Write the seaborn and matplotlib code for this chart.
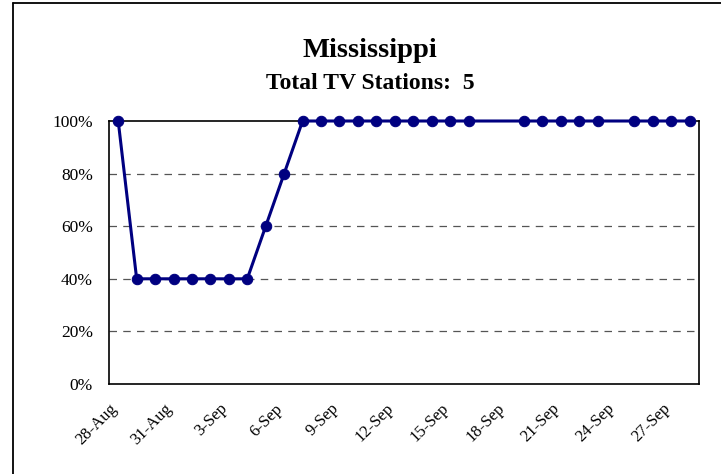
import pandas as pd
import matplotlib.pyplot as plt
from matplotlib.lines import Line2D
from matplotlib.ticker import PercentFormatter
import seaborn as sns

# data (share of TV stations operating)
dates = ['2005-08-28', '2005-08-29', '2005-08-30', '2005-08-31', '2005-09-01',
         '2005-09-02', '2005-09-03', '2005-09-04', '2005-09-05', '2005-09-06',
         '2005-09-07', '2005-09-08', '2005-09-09', '2005-09-10', '2005-09-11',
         '2005-09-12', '2005-09-13', '2005-09-14', '2005-09-15', '2005-09-16',
         '2005-09-19', '2005-09-20', '2005-09-21', '2005-09-22', '2005-09-23',
         '2005-09-25', '2005-09-26', '2005-09-27', '2005-09-28']
share = [1.0, 0.4, 0.4, 0.4, 0.4, 0.4, 0.4, 0.4, 0.6, 0.8,
         1.0, 1.0, 1.0, 1.0, 1.0, 1.0, 1.0, 1.0, 1.0, 1.0,
         1.0, 1.0, 1.0, 1.0, 1.0,
         1.0, 1.0, 1.0, 1.0]
tick_dates = ['2005-08-28', '2005-08-31', '2005-09-03', '2005-09-06', '2005-09-09',
              '2005-09-12', '2005-09-15', '2005-09-18', '2005-09-21', '2005-09-24',
              '2005-09-27']
tick_labels = ['28-Aug', '31-Aug', '3-Sep', '6-Sep', '9-Sep', '12-Sep', '15-Sep',
               '18-Sep', '21-Sep', '24-Sep', '27-Sep']
y_ticks = [0, 0.2, 0.4, 0.6, 0.8, 1.0]

df = pd.DataFrame({'date': pd.to_datetime(dates), 'share': share})
half_day = pd.Timedelta(hours=12)

sns.set_style('white')
plt.rcParams['font.family'] = ['Liberation Serif', 'DejaVu Serif']
plt.rcParams['text.color'] = 'black'

fig = plt.figure(figsize=(7.21, 4.74), dpi=100)
ax = fig.add_axes([109 / 721, 1 - 384 / 474, 590 / 721, 263 / 474])

sns.lineplot(data=df, x='date', y='share', ax=ax, color='#000080', linewidth=2.2,
             marker='o', markersize=7.5, markeredgecolor='#000080', clip_on=False, zorder=5)

ax.set_xlim(df['date'].iloc[0] - half_day, df['date'].iloc[-1] + half_day)
ax.set_ylim(0, 1)
ax.set_xticks(pd.to_datetime(tick_dates) - half_day)
ax.set_xticklabels(tick_labels, rotation=45, ha='right', rotation_mode='anchor', fontsize=12)
ax.set_yticks(y_ticks)
ax.yaxis.set_major_formatter(PercentFormatter(1.0, decimals=0))
ax.tick_params(axis='y', direction='inout', length=7, width=1, labelsize=12.5, pad=8,
               colors='black')
ax.tick_params(axis='x', direction='out', length=5, width=1, pad=7, colors='black')
ax.set_xlabel('')
ax.set_ylabel('')

for y in y_ticks[1:-1]:
    ax.axhline(y, color='#555555', linewidth=0.9, linestyle=(0, (6, 5)), zorder=0.5)

for s in ax.spines.values():
    s.set_visible(True)
    s.set_color('black')
    s.set_linewidth(1.2)

fig.text(370 / 721, 1 - 57 / 474, 'Mississippi', ha='center', va='baseline',
         fontsize=20.5, fontweight='bold', color='black')
fig.text(370 / 721, 1 - 89 / 474, 'Total TV Stations:  5', ha='center', va='baseline',
         fontsize=17, fontweight='bold', color='black')

# outer chart-area border (cropped on right and bottom)
fig.add_artist(Line2D([13.5 / 721, 13.5 / 721], [0, 1 - 2.5 / 474], color='black',
                      linewidth=1.3, transform=fig.transFigure))
fig.add_artist(Line2D([13.5 / 721, 1], [1 - 2.5 / 474, 1 - 2.5 / 474], color='black',
                      linewidth=1.3, transform=fig.transFigure))

fig.savefig('out.png', dpi=100)
